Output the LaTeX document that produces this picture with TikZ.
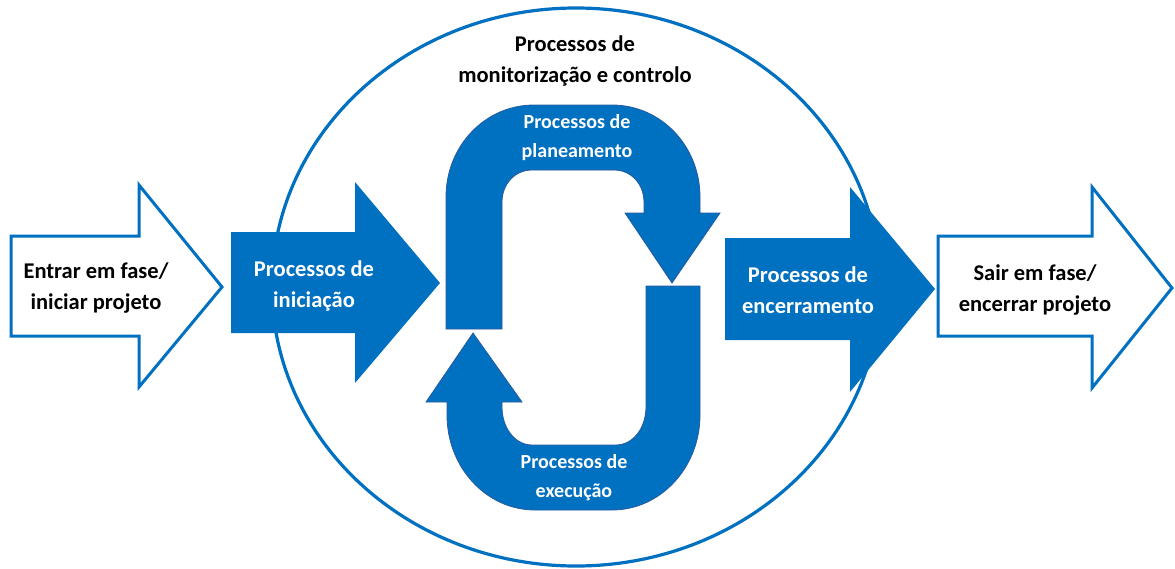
\documentclass[tikz,border=0pt]{standalone}
\usepackage{fontspec}
\setmainfont{Carlito}
\definecolor{pmblue}{RGB}{0,112,192}
\definecolor{pmedge}{RGB}{40,90,160}
\begin{document}
\begin{tikzpicture}[x=1pt,y=-1pt,
  bigtxt/.style={align=center,inner sep=0pt,font=\fontsize{22.5}{31}\selectfont\bfseries},
  smalltxt/.style={align=center,inner sep=0pt,font=\fontsize{20}{29}\selectfont\bfseries},
  hollow/.style={draw=pmblue,line width=3pt,fill=white,line join=miter},
  solid/.style={fill=pmblue},
  ushape/.style={fill=pmblue,draw=pmedge,line width=0.8pt}]
\useasboundingbox (0,0) rectangle (1175,568);

% monitoring and control ellipse
\draw[pmblue,line width=3.2pt] (576,287) ellipse [x radius=304,y radius=279];

% entry arrow (hollow)
\draw[hollow] (11,236) -- (139,236) -- (139,185) -- (222,287) -- (139,387)
  -- (139,336) -- (11,336) -- cycle;
% exit arrow (hollow)
\draw[hollow] (938,236) -- (1092,236) -- (1092,187) -- (1172,288) -- (1092,388)
  -- (1092,336) -- (938,336) -- cycle;

% initiating arrow
\fill[solid] (231,232) -- (355,232) -- (355,182) -- (440,283) -- (355,383)
  -- (355,333) -- (231,333) -- cycle;
% closing arrow
\fill[solid] (725,238) -- (850,238) -- (850,187) -- (935,289) -- (850,392)
  -- (850,340) -- (725,340) -- cycle;

% planning U-turn arrow
\draw[ushape] (446,329) -- (446,197)
  .. controls (446,146) and (485,105) .. (534,105) -- (612,105)
  .. controls (661,105) and (700,146) .. (700,197) -- (700,213)
  -- (720,213) -- (672,283) -- (625,213) -- (644,213) -- (644,202)
  .. controls (644,184) and (631,170) .. (614,170) -- (532,170)
  .. controls (515,170) and (502,184) .. (502,202) -- (502,329) -- cycle;

% executing U-turn arrow
\draw[ushape] (700,286) -- (700,415)
  .. controls (700,467) and (661,510) .. (612,510) -- (535,510)
  .. controls (486,510) and (447,467) .. (447,415) -- (447,402)
  -- (426,402) -- (473,333) -- (522,402) -- (502,402) -- (502,407)
  .. controls (502,428) and (515,445) .. (532,445) -- (616,445)
  .. controls (633,445) and (646,428) .. (646,407) -- (646,286) -- cycle;

% labels
\node[bigtxt] (tEnter) at (96,288) {\strut Entrar em fase/\\\strut iniciar projeto};
\node[bigtxt,text=white] (tInit) at (314,285.5) {\strut Processos de\\\strut iniciação};
\node[bigtxt] (tMon) at (575,61) {\strut Processos de\\\strut monitorização e controlo};
\node[smalltxt,text=white] (tPlan) at (577,137) {\strut Processos de\\\strut planeamento};
\node[smalltxt,text=white] (tExec) at (574,477) {\strut Processos de\\\strut execução};
\node[bigtxt,text=white] (tClose) at (808,292) {\strut Processos de\\\strut encerramento};
\node[bigtxt] (tExit) at (1035,290) {\strut Sair em fase/\\\strut encerrar projeto};
\end{tikzpicture}
\end{document}
